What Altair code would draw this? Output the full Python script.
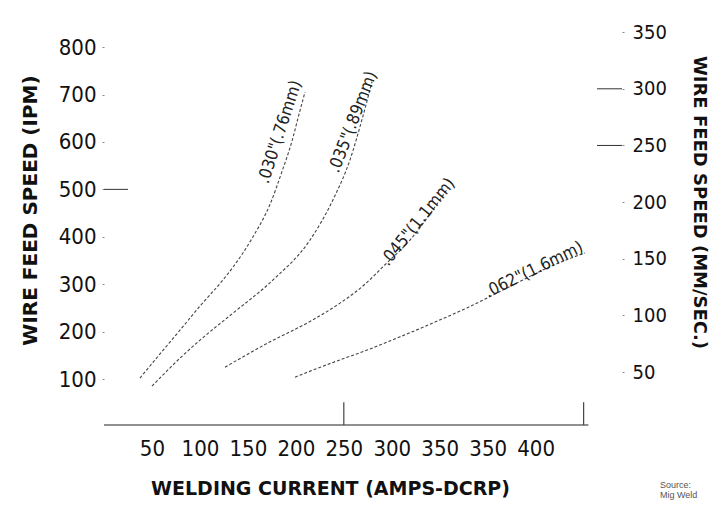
import altair as alt
import pandas as pd

# ---- data ----
amps_030 = [37.5, 58.4, 79.2, 100.1, 124.0, 134.5, 155.3, 173.0, 185.6, 196.0, 202.2, 209.5]
ipm_030 = [102, 153, 203, 254, 309, 336, 400, 468, 538, 602, 650, 705]

amps_035 = [50.0, 82.4, 100.1, 134.5, 176.2, 214.7, 238.7, 256.4, 268.9, 279.4]
ipm_035 = [85, 150, 182, 239, 309, 393, 478, 562, 647, 727]

amps_045 = [126.1, 169.9, 217.9, 246.0, 272.1, 292.9, 319.0, 339.8, 358.6]
ipm_045 = [125, 175, 225, 260, 300, 341, 393, 448, 503]

amps_062 = [199.1, 238.7, 274.2, 308.6, 345.0, 378.4, 402.4, 433.7, 465.0, 501.4]
ipm_062 = [104, 135, 161, 189, 220, 250, 274, 306, 337, 366]

wire_labels = ['.030"(.76mm)', '.035"(.89mm)', '.045"(1.1mm)', '.062"(1.6mm)']
label_amps = [183.5, 259.6, 327.3, 448.2]
label_ipm = [621, 642, 431, 330]
label_angle = [288, 291, 309, 334]

x_tick_pos = [50, 100, 150, 200, 250, 300, 350, 400, 450]
x_tick_text = ["50", "100", "150", "200", "250", "300", "350", "350", "400"]
ipm_ticks = [100, 200, 300, 400, 500, 600, 700, 800]
mms_ticks = [50, 100, 150, 200, 250, 300, 350]

# ---- build tables ----
rows = []
for name, aa, ii in [(wire_labels[0], amps_030, ipm_030), (wire_labels[1], amps_035, ipm_035),
                     (wire_labels[2], amps_045, ipm_045), (wire_labels[3], amps_062, ipm_062)]:
    for k, (a, v) in enumerate(zip(aa, ii)):
        rows.append({"wire": name, "amps": a, "ipm": v, "idx": k})
curves_df = pd.DataFrame(rows)
labels_df = pd.DataFrame({"text": wire_labels, "amps": label_amps, "ipm": label_ipm, "angle": label_angle})

X_DOM = [0, 540]
IPM_DOM = [3, 872]
MMS_DOM = [3.3, 366.9]
NARROW = "Liberation Sans Narrow, Arial Narrow, DejaVu Sans Condensed, sans-serif"
TITLE_FONT = "DejaVu Sans"

xs = alt.Scale(domain=X_DOM, nice=False, zero=False)
ys = alt.Scale(domain=IPM_DOM, nice=False, zero=False)
rs = alt.Scale(domain=MMS_DOM, nice=False, zero=False)

label_expr = "[" + ",".join("'%s'" % t for t in x_tick_text) + "][indexof([" + \
    ",".join(str(p) for p in x_tick_pos) + "], datum.value)]"

x_axis = alt.Axis(values=x_tick_pos, labelExpr=label_expr, ticks=False, domain=False, grid=False,
                  labelFont=NARROW, labelFontSize=22, labelColor="#111", labelPadding=13,
                  labelOverlap=False, labelFlush=False,
                  title="WELDING CURRENT (AMPS-DCRP)", titleFont=TITLE_FONT, titleFontSize=19,
                  titleFontWeight="bold", titleColor="#111", titleX=226, titleY=63,
                  titleAlign="center", titleBaseline="middle")

y_axis = alt.Axis(values=ipm_ticks, tickSize=2, tickColor="#888", domain=False, grid=False,
                  labelFont=NARROW, labelFontSize=22, labelColor="#111", labelPadding=6,
                  title="WIRE FEED SPEED (IPM)", titleFont=TITLE_FONT, titleFontSize=20,
                  titleFontWeight="bold", titleColor="#111", titleAngle=270,
                  titleX=-74, titleY=197, titleAlign="center", titleBaseline="middle")

r_axis = alt.Axis(orient="right", values=mms_ticks, tickSize=2, tickColor="#888", domain=False, grid=False,
                  labelFont=NARROW, labelFontSize=20, labelColor="#111", labelPadding=8,
                  title="WIRE FEED SPEED (MM/SEC.)", titleFont=TITLE_FONT, titleFontSize=18,
                  titleFontWeight="bold", titleColor="#111", titleAngle=90,
                  titleX=76, titleY=189, titleAlign="center", titleBaseline="middle")

X = lambda f: alt.X(f, scale=xs, axis=x_axis)
Y = lambda f: alt.Y(f, scale=ys, axis=y_axis)

curves = alt.Chart(curves_df).mark_line(
    strokeDash=[3, 2], strokeWidth=1.1, color="#444", interpolate="monotone"
).encode(
    x=X("amps:Q"),
    y=Y("ipm:Q"),
    detail="wire:N",
    order="idx:Q",
)

curve_labels = alt.Chart(labels_df).mark_text(
    font=NARROW, fontSize=17, color="#222", align="center", baseline="middle"
).encode(
    x=X("amps:Q"),
    y=Y("ipm:Q"),
    text="text:N",
    angle=alt.Angle("angle:Q", scale=None),
)

axis_line = alt.Chart(pd.DataFrame({"amps": [0], "a1": [505], "ipm": [IPM_DOM[0]]})).mark_rule(
    color="#222", strokeWidth=1.2
).encode(
    x=X("amps:Q"), x2="a1:Q",
    y=Y("ipm:Q"),
)

x_long = alt.Chart(pd.DataFrame({"amps": [250, 500], "ipm": [IPM_DOM[0]] * 2, "v1": [51, 51]})).mark_rule(
    color="#444", strokeWidth=1.2
).encode(
    x=X("amps:Q"),
    y=Y("ipm:Q"), y2="v1:Q",
)

left_long = alt.Chart(pd.DataFrame({"amps": [0], "a1": [25], "ipm": [500]})).mark_rule(
    color="#333", strokeWidth=1
).encode(
    x=X("amps:Q"), x2="a1:Q",
    y=Y("ipm:Q"),
)

source = alt.Chart(pd.DataFrame({"t": ["Source:", "Mig Weld"], "yy": [472, 482]})).mark_text(
    font="Liberation Sans, sans-serif", fontSize=9, color="#555", align="left", baseline="middle"
).encode(
    x=alt.value(556), y=alt.Y("yy:Q", scale=None), text="t:N"
)

left_group = alt.layer(curves, curve_labels, axis_line, x_long, left_long, source)

right_group = alt.Chart(pd.DataFrame({"amps": [514, 514], "a1": [540, 540], "m": [250, 300]})).mark_rule(
    color="#333", strokeWidth=1
).encode(
    x=X("amps:Q"), x2="a1:Q",
    y=alt.Y("m:Q", scale=rs, axis=r_axis),
)

chart = alt.layer(left_group, right_group).resolve_scale(y="independent").properties(
    width=518, height=412,
    autosize=alt.AutoSizeParams(type="none"),
    padding={"left": 96, "top": 5, "right": 89, "bottom": 75},
    background="white",
).configure_view(stroke=None)

chart.save("out.html", embed_options={"renderer": "svg", "actions": False})
